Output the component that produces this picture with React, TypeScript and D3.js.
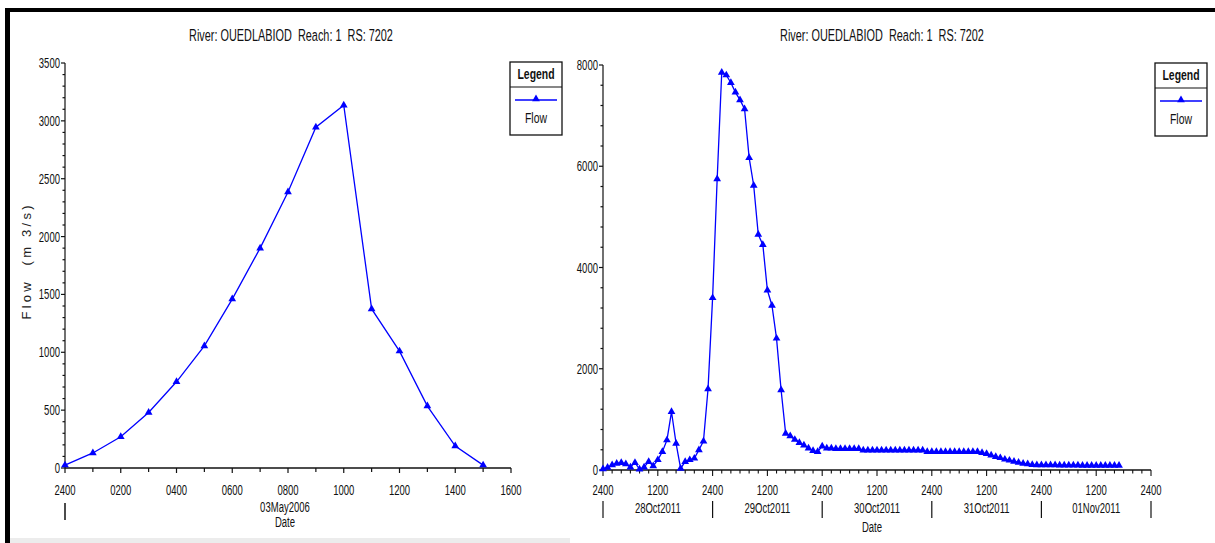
import React from "react";
import * as d3 from "d3";

// ---------- data ----------
const TITLE = "River: OUEDLABIOD  Reach: 1  RS: 7202";

// Left chart: 03May2006, hourly from 2400 (hour 0) to 1500
const leftHours = [0, 1, 2, 3, 4, 5, 6, 7, 8, 9, 10, 11, 12, 13, 14, 15];
const leftFlow = [25, 130, 270, 480, 745, 1055, 1460, 1900, 2385, 2945, 3135, 1375, 1010, 535, 190, 25];
const leftXTicks = ["2400", "0200", "0400", "0600", "0800", "1000", "1200", "1400", "1600"];
const leftYTicks = [0, 500, 1000, 1500, 2000, 2500, 3000, 3500];
const leftDay = "03May2006";

// Right chart: hourly from 2400 27Oct2011 (hour 0)
const rightFlow = [
  20, 50, 100, 130, 145, 120, 55, 145, 15, 55,
  165, 80, 200, 360, 590, 1150, 525, 30, 165, 200,
  230, 395, 570, 1600, 3400, 5750, 7850, 7800, 7650, 7460,
  7310, 7130, 6170, 5620, 4650, 4450, 3550, 3250, 2600, 1580,
  720, 670, 600, 540, 490, 430, 380, 360, 470, 430,
  430, 420, 420, 420, 420, 420, 420, 390, 390, 390,
  390, 390, 390, 390, 390, 390, 390, 390, 390, 390,
  390, 360, 360, 360, 360, 360, 360, 360, 360, 360,
  360, 360, 360, 340, 320, 290, 260, 240, 210, 190,
  170, 150, 130, 120, 105, 100, 100, 100, 100, 100,
  95, 95, 95, 95, 95, 90, 90, 90, 90, 90,
  90, 90, 90, 90,
];
const rightXTicks = ["2400", "1200", "2400", "1200", "2400", "1200", "2400", "1200", "2400", "1200", "2400"];
const rightYTicks = [0, 2000, 4000, 6000, 8000];
const rightDays = ["28Oct2011", "29Oct2011", "30Oct2011", "31Oct2011", "01Nov2011"];

const LEGEND_TITLE = "Legend";
const SERIES = "Flow";
const X_TITLE = "Date";
const Y_TITLE = "Flow  (m 3/s)";

// ---------- styles ----------
const SANS = "'Liberation Sans', Arial, sans-serif";
const BLUE = "#0000ff";
const INK = "#111";

const tri = d3.symbol(d3.symbolTriangle, 26)() as string;

// condensed text (Arial Narrow look) via horizontal scaling
function NT({
  x, y, children, size = 14, sx = 0.68, anchor = "middle", weight = "normal",
}: { x: number; y: number; children: any; size?: number; sx?: number; anchor?: string; weight?: string }) {
  return (
    <text
      transform={`translate(${x},${y}) scale(${sx},1)`}
      textAnchor={anchor}
      fontFamily={SANS}
      fontSize={size}
      fontWeight={weight}
      fill={INK}
      style={{ whiteSpace: "pre" }}
    >
      {children}
    </text>
  );
}

function Legend({ x, y }: { x: number; y: number }) {
  const w = 52, h = 73, hh = 25;
  return (
    <g transform={`translate(${x},${y})`}>
      <rect x={0} y={0} width={w} height={h} fill="#fff" stroke={INK} strokeWidth={1.3} />
      <line x1={0} x2={w} y1={hh} y2={hh} stroke={INK} strokeWidth={1.2} />
      <NT x={w / 2} y={17} size={14.5} sx={0.72} weight="bold">{LEGEND_TITLE}</NT>
      <line x1={5} x2={w - 5} y1={38} y2={38} stroke={BLUE} strokeWidth={1.5} />
      <path d={tri} transform={`translate(${w / 2},37)`} fill={BLUE} />
      <NT x={w / 2} y={61} size={14.5} sx={0.72}>{SERIES}</NT>
    </g>
  );
}

function LeftChart() {
  const x = d3.scaleLinear().domain([0, 16]).range([65, 511]);
  const y = d3.scaleLinear().domain([0, 3500]).range([468, 63]);
  const line = d3.line<number>().x((_, i) => x(leftHours[i])).y((d) => y(d));
  const minorY = d3.range(0, 3501, 100);
  const minorX = d3.range(0, 17, 1);
  const [x0, x1] = x.range();
  const [y0, y1] = y.range();
  return (
    <g>
      <NT x={291} y={41} size={16.5} sx={0.66}>{TITLE}</NT>
      {/* y axis */}
      <line x1={x0} x2={x0} y1={y0} y2={y1} stroke={INK} strokeWidth={1.2} />
      {minorY.map((v) => (
        <line key={"my" + v} x1={x0 - (v % 500 === 0 ? 4 : 2.5)} x2={x0} y1={y(v)} y2={y(v)} stroke={INK} strokeWidth={1.2} />
      ))}
      {leftYTicks.map((v) => (
        <NT key={"ly" + v} x={x0 - 5} y={y(v) + 5} anchor="end">{v}</NT>
      ))}
      <text
        transform={`translate(31,${(y0 + y1) / 2 - 3}) rotate(-90)`}
        textAnchor="middle"
        fontFamily={SANS}
        fontSize={13}
        textLength={114}
        lengthAdjust="spacing"
        fill="#222"
        style={{ whiteSpace: "pre" }}
      >
        {Y_TITLE}
      </text>
      {/* x axis */}
      <line x1={x0} x2={x1} y1={y0} y2={y0} stroke={INK} strokeWidth={1.6} />
      {minorX.map((h) => (
        <line key={"mx" + h} x1={x(h)} x2={x(h)} y1={y0} y2={y0 + (h % 2 === 0 ? 5 : 4)} stroke={INK} strokeWidth={1.2} />
      ))}
      {leftXTicks.map((t, i) => (
        <NT key={"lx" + i} x={x(i * 2)} y={495}>{t}</NT>
      ))}
      <line x1={x0} x2={x0} y1={503} y2={520} stroke={INK} strokeWidth={1.5} />
      <NT x={(x0 + x1) / 2 - 3} y={512}>{leftDay}</NT>
      <NT x={(x0 + x1) / 2 - 3} y={527}>{X_TITLE}</NT>
      {/* data */}
      <path d={line(leftFlow) as string} fill="none" stroke={BLUE} strokeWidth={1.3} />
      {leftFlow.map((v, i) => (
        <path key={"lp" + i} d={tri} transform={`translate(${x(leftHours[i])},${y(v)})`} fill={BLUE} />
      ))}
      <Legend x={510} y={62} />
    </g>
  );
}

function RightChart() {
  const x = d3.scaleLinear().domain([0, 120]).range([603, 1151]);
  const y = d3.scaleLinear().domain([0, 8000]).range([470, 65]);
  const line = d3.line<number>().x((_, i) => x(i)).y((d) => y(d));
  const minorY = d3.range(0, 8001, 400);
  const minorX = d3.range(0, 121, 2);
  const [x0, x1] = x.range();
  const [y0, y1] = y.range();
  return (
    <g>
      <NT x={882} y={41} size={16.5} sx={0.66}>{TITLE}</NT>
      <line x1={x0} x2={x0} y1={y0} y2={y1} stroke={INK} strokeWidth={1.2} />
      {minorY.map((v) => (
        <line key={"my" + v} x1={x0 - (v % 2000 === 0 ? 4 : 2.5)} x2={x0} y1={y(v)} y2={y(v)} stroke={INK} strokeWidth={1.2} />
      ))}
      {rightYTicks.map((v) => (
        <NT key={"ry" + v} x={x0 - 5} y={y(v) + 5} anchor="end">{v}</NT>
      ))}
      <line x1={x0} x2={x1} y1={y0} y2={y0} stroke={INK} strokeWidth={1.6} />
      {minorX.map((h) => (
        <line key={"mx" + h} x1={x(h)} x2={x(h)} y1={y0} y2={y0 + (h % 12 === 0 ? 6 : 3.5)} stroke={INK} strokeWidth={1.1} />
      ))}
      {rightXTicks.map((t, i) => (
        <NT key={"rx" + i} x={x(i * 12)} y={495}>{t}</NT>
      ))}
      {d3.range(0, 6).map((d) => (
        <line key={"sep" + d} x1={x(d * 24)} x2={x(d * 24)} y1={501} y2={518} stroke={INK} strokeWidth={1.2} />
      ))}
      {rightDays.map((t, d) => (
        <NT key={"rd" + d} x={x(d * 24 + 12)} y={513}>{t}</NT>
      ))}
      <NT x={(x0 + x1) / 2 - 5} y={532}>{X_TITLE}</NT>
      <path d={line(rightFlow) as string} fill="none" stroke={BLUE} strokeWidth={1.3} />
      {rightFlow.map((v, i) => (
        <path key={"rp" + i} d={tri} transform={`translate(${x(i)},${y(v)})`} fill={BLUE} />
      ))}
      <Legend x={1155} y={63} />
    </g>
  );
}

export default function App() {
  return (
    <svg
      width={1215}
      height={543}
      viewBox="0 0 1215 543"
      style={{ position: "absolute", left: 0, top: 0, display: "block", background: "#fff" }}
    >
      <rect x={0} y={0} width={1215} height={543} fill="#fff" />
      <rect x={5} y={8} width={1210} height={4} fill="#000" />
      <rect x={5} y={8} width={5} height={535} fill="#000" />
      <rect x={10} y={538} width={560} height={5} fill="#ececec" />
      <LeftChart />
      <RightChart />
    </svg>
  );
}
